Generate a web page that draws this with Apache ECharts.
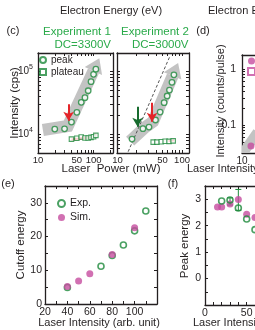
<!DOCTYPE html>
<html><head><meta charset="utf-8">
<script src="https://cdn.jsdelivr.net/npm/echarts@6/dist/echarts.min.js"></script>
<style>html,body{margin:0;padding:0;background:#fff}#c{width:255px;height:330px}</style>
</head><body><div id="c"></div>
<script>
// ---------- data ----------
const c1PeakPower = [20,30,40,50,60,70,80,90,100,110];
const c1PeakCps = [12000,12100,15500,22100,31800,37700,48600,67600,88700,107000];
const c1PlateauPower = [40,50,60,70,80,90,100,110];
const c1PlateauCps = [8300,8550,8960,8640,8640,8860,9070,9530];
const c1FitPower = [40,50,60,70,80,90,100,110];
const c1FitCps = [8150,8350,8550,8650,8750,8950,9300,10100];
const c1GuidePower = [12.2,34.4,127];
const c1GuideCps = [11570,13400,159000];
const c1RedArrowPower = 35.5;
const c1RedArrowCps = [29600,16300];

const c2PeakPower = [17,25,31,39,46,53,59,64,70,75];
const c2PeakCps = [8330,12150,12900,16700,22300,31400,40100,49900,66000,87000];
const c2PlateauPower = [36,41,48,55,63,73];
const c2PlateauCps = [7450,7450,7550,7700,7650,7800];
const c2FitPower = [62,68,76];
const c2FitCps = [7750,7800,7950];
const c2GuidePower = [15.9,27,35.8,87];
const c2GuideCps = [7740,12800,15700,134000];
const c2DashPower = [14.8,65.3];
const c2DashCps = [5240,173000];
const c2GreenArrowPower = 20.7;
const c2GreenArrowCps = [27200,13100];
const c2RedArrowPower = 34.5;
const c2RedArrowCps = [31400,15700];

const dPeakX = [14];
const dPeakY = [0.042];
const dGuideX = [10,18];
const dGuideY = [0.03,0.075];

const eExpX = [40,70,80,90,100,110];
const eExpY = [4.9,11.2,14.4,17.5,21.7,27.6];
const eSimX = [40,50,60,80,100];
const eSimY = [5.2,6.8,9.0,14.7,22.6];

const fSimX = [15,20,30,40,50,60];
const fSimY = [2.71,2.71,2.82,2.99,2.43,2.31];
const fExpX = [20,30,40,50,60];
const fExpY = [2.93,2.97,2.67,2.25,1.85];
const fErrX = [30,40];
const fErrLow = [2.78,2.58];
const fErrHigh = [3.05,3.37];

const cPowerTicks = [10,20,30,40,50,60,70,80,90,100,200];
const c1PowerLabels = [10,50,100];
const c2PowerLabels = [50,100];
const cCpsTicks = [6000,7000,8000,9000,10000,20000,30000,40000,50000,60000,70000,80000,90000,100000];
const cCpsLabels = [10000,100000];
const dXTicks = [10,20,30,40,50,60,70,80,90,100];
const dXLabels = [10];
const dYTicks = [0.04,0.05,0.06,0.07,0.08,0.09,0.1,0.2,0.3,0.4,0.5,0.6,0.7,0.8,0.9,1];
const dYLabels = [0.1,1];
const eXTicks = [20,30,40,50,60,70,80,90,100,110,120];
const eXLabels = [20,40,60,80,100];
const eYTicks = [0,5,10,15,20,25,30,35];
const eYLabels = [0,10,20,30];
const fXTicks = [0,10,20,30,40,50,60,70,80,90,100,110,120];
const fXLabels = [0,50,100];
const fYTicks = [-1,-0.5,0,0.5,1,1.5,2,2.5,3,3.5];
const fYLabels = [0,1,2,3];

// ---------- style ----------
const FONT = 'Liberation Sans';
const INK = '#231f20';
const GREEN = '#1e8a3c';
const GREEN_TXT = '#2aaa4a';
const DKGREEN = '#176b2e';
const MAGENTA = '#c54c9f';
const RED = '#e4252a';
const GRAY = '#c3c3c3';

const grids = [
  {left:38, top:53, width:75, height:100},
  {left:117, top:53, width:72, height:100},
  {left:242, top:55, width:90, height:98},
  {left:45, top:186, width:112, height:118},
  {left:205, top:186, width:100, height:119}
].map(g => Object.assign({outerBoundsMode: 'none', containLabel: false}, g));

function axisPair(kind, gi, type, min, max, ticks, labels, fmt, lblSize, margin) {
  const mk = (pos, showLbl) => ({
    gridIndex: gi, type: type, logBase: 10, min: min, max: max, position: pos,
    axisLine: {show: true, onZero: false, lineStyle: {color: INK, width: 1.3}},
    axisTick: {show: true, inside: true, length: 3, customValues: ticks, lineStyle: {color: INK, width: 1}},
    axisLabel: {show: showLbl, customValues: labels, showMinLabel: true, showMaxLabel: true, hideOverlap: false,
      fontFamily: FONT, fontSize: lblSize, color: INK, margin: margin,
      formatter: fmt, rich: {b: {fontFamily: FONT, fontSize: lblSize, color: INK}, s: {fontFamily: FONT, fontSize: 7, color: INK, padding: [0,0,7,0]}}},
    splitLine: {show: false}, minorTick: {show: false}
  });
  return kind === 'x' ? [mk('bottom', true), mk('top', false)] : [mk('left', true), mk('right', false)];
}

const sup = v => (v === 10000 ? '{b|10}{s|4}' : v === 100000 ? '{b|10}{s|5}' : '');
const blank = () => '';
const plain = v => String(Math.round(v * 1000) / 1000);

const xAxis = [].concat(
  axisPair('x', 0, 'log', 9.97, 224, cPowerTicks, c1PowerLabels, plain, 9.5, 2),
  axisPair('x', 1, 'log', 9.97, 128, cPowerTicks, c2PowerLabels, plain, 9.5, 2),
  axisPair('x', 2, 'log', 9.97, 300, dXTicks, dXLabels, plain, 10, 3),
  axisPair('x', 3, 'value', 20, 120, eXTicks, eXLabels, plain, 10.5, 3),
  axisPair('x', 4, 'value', 0, 120, fXTicks, fXLabels, plain, 10.5, 3)
);
const yAxis = [].concat(
  axisPair('y', 0, 'log', 5000, 193000, cCpsTicks, cCpsLabels, sup, 10, 5),
  axisPair('y', 1, 'log', 5000, 193000, cCpsTicks, cCpsLabels, blank, 10, 5),
  axisPair('y', 2, 'log', 0.0316, 1.78, dYTicks, dYLabels, plain, 10.5, 6),
  axisPair('y', 3, 'value', 0, 35, eYTicks, eYLabels, plain, 10.5, 3),
  axisPair('y', 4, 'value', -1, 3.5, fYTicks, fYLabels, plain, 10.5, 4)
);

function zip(xs, ys) { return xs.map((x, i) => [x, ys[i]]); }

function arrowSeries(g, xs, ys, shaftW, headW, headL) {
  return {
    type: 'custom', xAxisIndex: 2*g, yAxisIndex: 2*g, silent: true, z: 1, clip: true,
    data: [0],
    renderItem: (params, api) => {
      const pts = xs.map((x, i) => api.coord([x, ys[i]]));
      const tip = pts[pts.length-1], prev = pts[pts.length-2];
      const dx = tip[0]-prev[0], dy = tip[1]-prev[1], L = Math.hypot(dx, dy);
      const ux = dx/L, uy = dy/L, nx = -uy, ny = ux;
      const base = [tip[0]-ux*headL, tip[1]-uy*headL];
      const shaft = pts.slice(0, -1).concat([base]);
      const children = [
        {type: 'polyline', shape: {points: shaft}, style: {stroke: GRAY, lineWidth: shaftW, fill: null, lineJoin: 'miter', lineCap: 'butt'}}
      ];
      if (headW > 0) children.push({type: 'polygon', shape: {points: [tip, [base[0]+nx*headW/2, base[1]+ny*headW/2], [base[0]-nx*headW/2, base[1]-ny*headW/2]]}, style: {fill: GRAY}});
      return {type: 'group', children: children};
    }
  };
}

function vArrow(x, ys, color) {
  return [{coord: [x, ys[0]], symbol: 'none'}, {coord: [x, ys[1]], symbol: 'arrow', symbolSize: [8, 9], lineStyle: {color: color}}];
}

const openCircle = {color: '#fff', borderColor: GREEN, borderWidth: 1.3};
const openSquare = {color: '#fff', borderColor: GREEN, borderWidth: 1.1};

const series = [
  arrowSeries(0, c1GuidePower, c1GuideCps, 12, 19, 14),
  {type: 'line', name: 'fit1', xAxisIndex: 0, yAxisIndex: 0, data: zip(c1FitPower, c1FitCps), smooth: true, symbol: 'none', lineStyle: {color: RED, width: 2.5}, z: 2},
  {type: 'scatter', name: 'plateau', xAxisIndex: 0, yAxisIndex: 0, data: zip(c1PlateauPower, c1PlateauCps), symbol: 'rect', symbolSize: 4.5, itemStyle: openSquare, z: 3},
  {type: 'scatter', name: 'peak', xAxisIndex: 0, yAxisIndex: 0, data: zip(c1PeakPower, c1PeakCps), symbol: 'circle', symbolSize: 5.5, itemStyle: openCircle, z: 4,
    markLine: {silent: true, animation: false, label: {show: false}, lineStyle: {color: RED, width: 2, type: 'solid'}, data: [vArrow(c1RedArrowPower, c1RedArrowCps, RED)]}},

  arrowSeries(1, c2GuidePower, c2GuideCps, 12, 19, 14),
  {type: 'line', name: 'dash2', xAxisIndex: 2, yAxisIndex: 2, data: zip(c2DashPower, c2DashCps), symbol: 'none', lineStyle: {color: '#555', width: 1, type: [3, 2]}, z: 2},
  {type: 'line', name: 'fit2', xAxisIndex: 2, yAxisIndex: 2, data: zip(c2FitPower, c2FitCps), smooth: true, symbol: 'none', lineStyle: {color: RED, width: 2}, z: 2},
  {type: 'scatter', name: 'plateau2', xAxisIndex: 2, yAxisIndex: 2, data: zip(c2PlateauPower, c2PlateauCps), symbol: 'rect', symbolSize: 4.5, itemStyle: openSquare, z: 3},
  {type: 'scatter', name: 'peak2', xAxisIndex: 2, yAxisIndex: 2, data: zip(c2PeakPower, c2PeakCps), symbol: 'circle', symbolSize: 5.5, itemStyle: openCircle, z: 4,
    markLine: {silent: true, animation: false, label: {show: false}, lineStyle: {width: 2, type: 'solid'}, data: [vArrow(c2GreenArrowPower, c2GreenArrowCps, DKGREEN), vArrow(c2RedArrowPower, c2RedArrowCps, RED)]}},

  arrowSeries(2, dGuideX, dGuideY, 10, 0, 0.01),
  {type: 'scatter', name: 'Peak', xAxisIndex: 4, yAxisIndex: 4, data: zip(dPeakX, dPeakY), symbol: 'circle', symbolSize: 7, itemStyle: {color: MAGENTA}, z: 4},
  {type: 'scatter', name: 'Plateau', xAxisIndex: 4, yAxisIndex: 4, data: [], symbol: 'rect', symbolSize: 6, itemStyle: {color: '#fff', borderColor: MAGENTA, borderWidth: 1.1}, z: 4},

  {type: 'scatter', name: 'Exp.', xAxisIndex: 6, yAxisIndex: 6, data: zip(eExpX, eExpY), symbol: 'circle', symbolSize: 6, itemStyle: {color: '#fff', borderColor: GREEN, borderWidth: 1.6}, z: 3},
  {type: 'scatter', name: 'Sim.', xAxisIndex: 6, yAxisIndex: 6, data: zip(eSimX, eSimY), symbol: 'circle', symbolSize: 7, itemStyle: {color: MAGENTA}, z: 4},

  {type: 'custom', name: 'err', xAxisIndex: 8, yAxisIndex: 8, z: 2,
    data: fErrX.map((x, i) => [x, fErrLow[i], fErrHigh[i]]), encode: {x: 0, y: [1, 2]},
    renderItem: (params, api) => {
      const lo = api.coord([api.value(0), api.value(1)]), hi = api.coord([api.value(0), api.value(2)]);
      const w = 3;
      const st = {stroke: GREEN, lineWidth: 1};
      return {type: 'group', children: [
        {type: 'line', shape: {x1: lo[0], y1: lo[1], x2: hi[0], y2: hi[1]}, style: st},
        {type: 'line', shape: {x1: lo[0]-w, y1: lo[1], x2: lo[0]+w, y2: lo[1]}, style: st},
        {type: 'line', shape: {x1: hi[0]-w, y1: hi[1], x2: hi[0]+w, y2: hi[1]}, style: st}
      ]};
    }},
  {type: 'scatter', name: 'fSim', xAxisIndex: 8, yAxisIndex: 8, data: zip(fSimX, fSimY), symbol: 'circle', symbolSize: 7, itemStyle: {color: MAGENTA}, z: 3},
  {type: 'scatter', name: 'fExp', xAxisIndex: 8, yAxisIndex: 8, data: zip(fExpX, fExpY), symbol: 'circle', symbolSize: 6, itemStyle: {color: 'rgba(255,255,255,0)', borderColor: GREEN, borderWidth: 1.6}, z: 4}
];

const legendText = {fontFamily: FONT, fontSize: 10, color: INK};
const legend = [
  {data: ['peak', 'plateau'], left: 39, top: 55, orient: 'vertical', padding: 0, itemGap: 2, itemWidth: 6, itemHeight: 6, textStyle: legendText, selectedMode: false},
  {data: ['Exp.', 'Sim.'], left: 57, top: 198, orient: 'vertical', padding: 0, itemGap: 3, itemWidth: 7, itemHeight: 7, textStyle: {fontFamily: FONT, fontSize: 10.5, color: INK}, selectedMode: false},
  {data: ['Peak', 'Plateau'], left: 247, top: 57, orient: 'vertical', padding: 0, itemGap: 2, itemWidth: 7, itemHeight: 7, textStyle: {fontFamily: FONT, fontSize: 8, color: INK}, selectedMode: false}
];

function txt(x, y, s, size, color, align, rot) {
  return {type: 'text', x: x, y: y, rotation: rot || 0, silent: true,
    style: {text: s, fontFamily: FONT, fontSize: size, fill: color || INK, align: align || 'center', verticalAlign: 'middle'}};
}
const R = Math.PI / 2;
const graphic = [
  txt(111, 11, 'Electron Energy (eV)', 11),
  txt(208, 11, 'Electron Energy (eV)', 11, INK, 'left'),
  txt(13, 31, '(c)', 11),
  txt(203, 31, '(d)', 11),
  txt(77, 32, 'Experiment 1', 11.5, GREEN_TXT),
  txt(111, 44.5, 'DC=3300V', 11.5, GREEN_TXT, 'right'),
  txt(155, 32, 'Experiment 2', 11.5, GREEN_TXT),
  txt(188.5, 44.5, 'DC=3000V', 11.5, GREEN_TXT, 'right'),
  txt(117.5, 160.5, '10', 9.5),
  txt(15, 103, 'Intensity (cps)', 11.5, INK, 'center', R),
  txt(111, 169, 'Laser  Power (mW)', 11.5),
  txt(221, 101, 'Intensity (counts/pulse)', 11, INK, 'center', R),
  txt(187, 169, 'Laser Intensity (arb. unit)', 11, INK, 'left'),
  txt(8, 184, '(e)', 11),
  txt(173, 184, '(f)', 11),
  txt(21, 245, 'Cutoff energy', 11.5, INK, 'center', R),
  txt(99, 323, 'Laser Intensity (arb. unit)', 11),
  txt(185, 246, 'Peak energy', 11.5, INK, 'center', R),
  txt(193, 323, 'Laser Intensity (arb. unit)', 11, INK, 'left')
];

const chart = echarts.init(document.getElementById('c'), null, {renderer: 'canvas'});
chart.setOption({
  animation: false,
  backgroundColor: '#fff',
  grid: grids,
  xAxis: xAxis,
  yAxis: yAxis,
  legend: legend,
  series: series,
  graphic: graphic
});
</script>
</body></html>
